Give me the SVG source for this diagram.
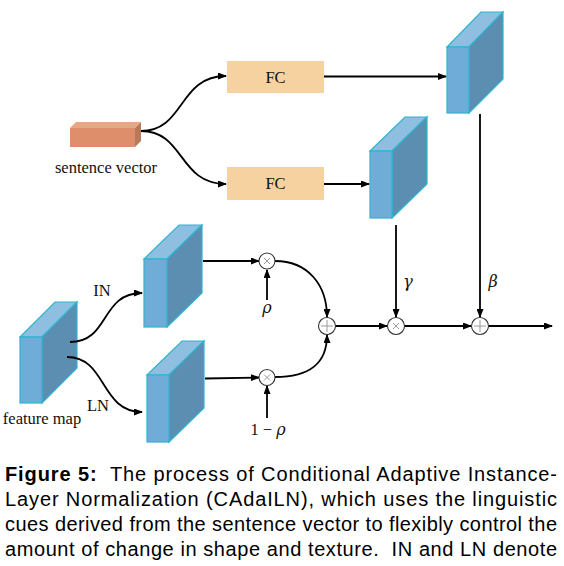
<svg xmlns="http://www.w3.org/2000/svg" width="564" height="566" viewBox="0 0 564 566">
<style>
.front{fill:#6FADD8;stroke:#2FB3CF;stroke-width:1.2}
.side{fill:#5B8EB0;stroke:#2FB3CF;stroke-width:1.2}
.top{fill:#8FBFE0;stroke:#2FB3CF;stroke-width:1.2}
.fc{fill:#F5D2A0}
.lbl{font-family:"Liberation Serif","Times New Roman",serif;font-size:16.5px;fill:#111}
.gk{font-family:"DejaVu Serif",serif;font-size:16px;font-style:italic;fill:#111}
.ln{fill:none;stroke:#000;stroke-width:1.8}
.op{fill:#fff;stroke:#333;stroke-width:1.1}
.sym{stroke:#999;stroke-width:1;fill:none}
.cap{font-family:"Liberation Sans",Arial,sans-serif;font-size:20px;fill:#000}
</style>
<defs>
<marker id="ah" markerUnits="userSpaceOnUse" markerWidth="9" markerHeight="7" refX="8" refY="3.5" orient="auto">
<path d="M0,0 L9,3.5 L0,7 z" fill="#000"/>
</marker>
</defs>
<rect width="564" height="566" fill="#fff"/>

<g id="sentence-vector">
<polygon points="70,128 76,122 141,122 135,128" fill="#E8A684"/>
<polygon points="135,128 141,122 141,141 135,147" fill="#B8785A"/>
<rect x="70" y="128" width="65" height="19" fill="#DF8E6C"/>
<text class="lbl" x="106" y="173" text-anchor="middle">sentence vector</text>
</g>

<g id="fc-top">
<rect class="fc" x="227" y="61" width="97" height="32"/>
<text class="lbl" x="275.5" y="83" text-anchor="middle">FC</text>
</g>
<g id="fc-bottom">
<rect class="fc" x="227" y="167" width="97" height="33"/>
<text class="lbl" x="275.5" y="189" text-anchor="middle">FC</text>
</g>

<g id="beta-map">
<polygon class="top" points="447,47 481,12 503,12 469,47"/>
<polygon class="side" points="469,47 503,12 503,79 469,113"/>
<rect class="front" x="447" y="47" width="22" height="66"/>
</g>
<g id="gamma-map">
<polygon class="top" points="370,151 405,117 427,117 392,151"/>
<polygon class="side" points="392,151 427,117 427,184 392,218"/>
<rect class="front" x="370" y="151" width="22" height="67"/>
</g>
<g id="in-map">
<polygon class="top" points="144,259 179,225 202,225 167,259"/>
<polygon class="side" points="167,259 202,225 202,293 167,327"/>
<rect class="front" x="144" y="259" width="23" height="68"/>
</g>
<g id="ln-map">
<polygon class="top" points="147,375 182,341 204,341 169,375"/>
<polygon class="side" points="169,375 204,341 204,408 169,442"/>
<rect class="front" x="147" y="375" width="22" height="67"/>
</g>
<g id="feature-map">
<polygon class="top" points="20,337 55,302 77,302 42,337"/>
<polygon class="side" points="42,337 77,302 77,368 42,403"/>
<rect class="front" x="20" y="337" width="22" height="66"/>
<text class="lbl" x="42" y="424" text-anchor="middle">feature map</text>
</g>

<g id="connectors">
<path class="ln" d="M141,131 C185,131 178,76 226,76" marker-end="url(#ah)"/>
<path class="ln" d="M141,131 C185,131 178,184 226,184" marker-end="url(#ah)"/>
<path class="ln" d="M324,76.5 L446,76.5" marker-end="url(#ah)"/>
<path class="ln" d="M324,184 L369,184" marker-end="url(#ah)"/>
<path class="ln" d="M70,342 C110,342 100,293 142,293" marker-end="url(#ah)"/>
<path class="ln" d="M67,357 C107,357 100,412 142,412" marker-end="url(#ah)"/>
<path class="ln" d="M203,261 L259,261" marker-end="url(#ah)"/>
<path class="ln" d="M205,378.5 L259,377.5" marker-end="url(#ah)"/>
<path class="ln" d="M267,300 L267,270" marker-end="url(#ah)"/>
<path class="ln" d="M267,418 L267,386" marker-end="url(#ah)"/>
<path class="ln" d="M275,261 C308,261 327,285 327,317" marker-end="url(#ah)"/>
<path class="ln" d="M275,377 C308,377 327,365 327,335" marker-end="url(#ah)"/>
<path class="ln" d="M335,326 L387,326" marker-end="url(#ah)"/>
<path class="ln" d="M396,225 L396,317" marker-end="url(#ah)"/>
<path class="ln" d="M404,326 L471,326" marker-end="url(#ah)"/>
<path class="ln" d="M480,114 L480,317" marker-end="url(#ah)"/>
<path class="ln" d="M488,326 L552,326" marker-end="url(#ah)"/>
</g>

<g id="mult-top">
<circle class="op" cx="267" cy="261" r="8"/>
<path class="sym" d="M264,258 L270,264 M270,258 L264,264"/>
</g>
<g id="mult-bottom">
<circle class="op" cx="267" cy="377.5" r="8"/>
<path class="sym" d="M264,374.5 L270,380.5 M270,374.5 L264,380.5"/>
</g>
<g id="plus-mix">
<circle class="op" cx="327" cy="326" r="8.5"/>
<path class="sym" d="M327,320 L327,332 M321,326 L333,326"/>
</g>
<g id="mult-gamma">
<circle class="op" cx="396" cy="326" r="8.5"/>
<path class="sym" d="M393,323 L399,329 M399,323 L393,329"/>
</g>
<g id="plus-beta">
<circle class="op" cx="480" cy="326" r="8.5"/>
<path class="sym" d="M480,320 L480,332 M474,326 L486,326"/>
</g>

<g id="labels">
<text class="lbl" x="102" y="296" text-anchor="middle">IN</text>
<text class="lbl" x="98" y="411" text-anchor="middle">LN</text>
<text class="gk" x="267" y="313" text-anchor="middle">ρ</text>
<text class="lbl" x="268" y="435" text-anchor="middle">1 − <tspan class="gk">ρ</tspan></text>
<text class="gk" x="408" y="287" text-anchor="middle">γ</text>
<text class="gk" x="493" y="287" text-anchor="middle">β</text>
</g>

<g id="caption">
<text class="cap" x="5" y="481" textLength="552" lengthAdjust="spacing" xml:space="preserve"><tspan font-weight="bold">Figure 5:</tspan>  The process of Conditional Adaptive Instance-</text>
<text class="cap" x="5" y="506" textLength="552" lengthAdjust="spacing">Layer Normalization (CAdaILN), which uses the linguistic</text>
<text class="cap" x="5" y="531" textLength="552" lengthAdjust="spacing">cues derived from the sentence vector to flexibly control the</text>
<text class="cap" x="5" y="556" textLength="552" lengthAdjust="spacing" xml:space="preserve">amount of change in shape and texture.  IN and LN denote</text>
</g>
</svg>
